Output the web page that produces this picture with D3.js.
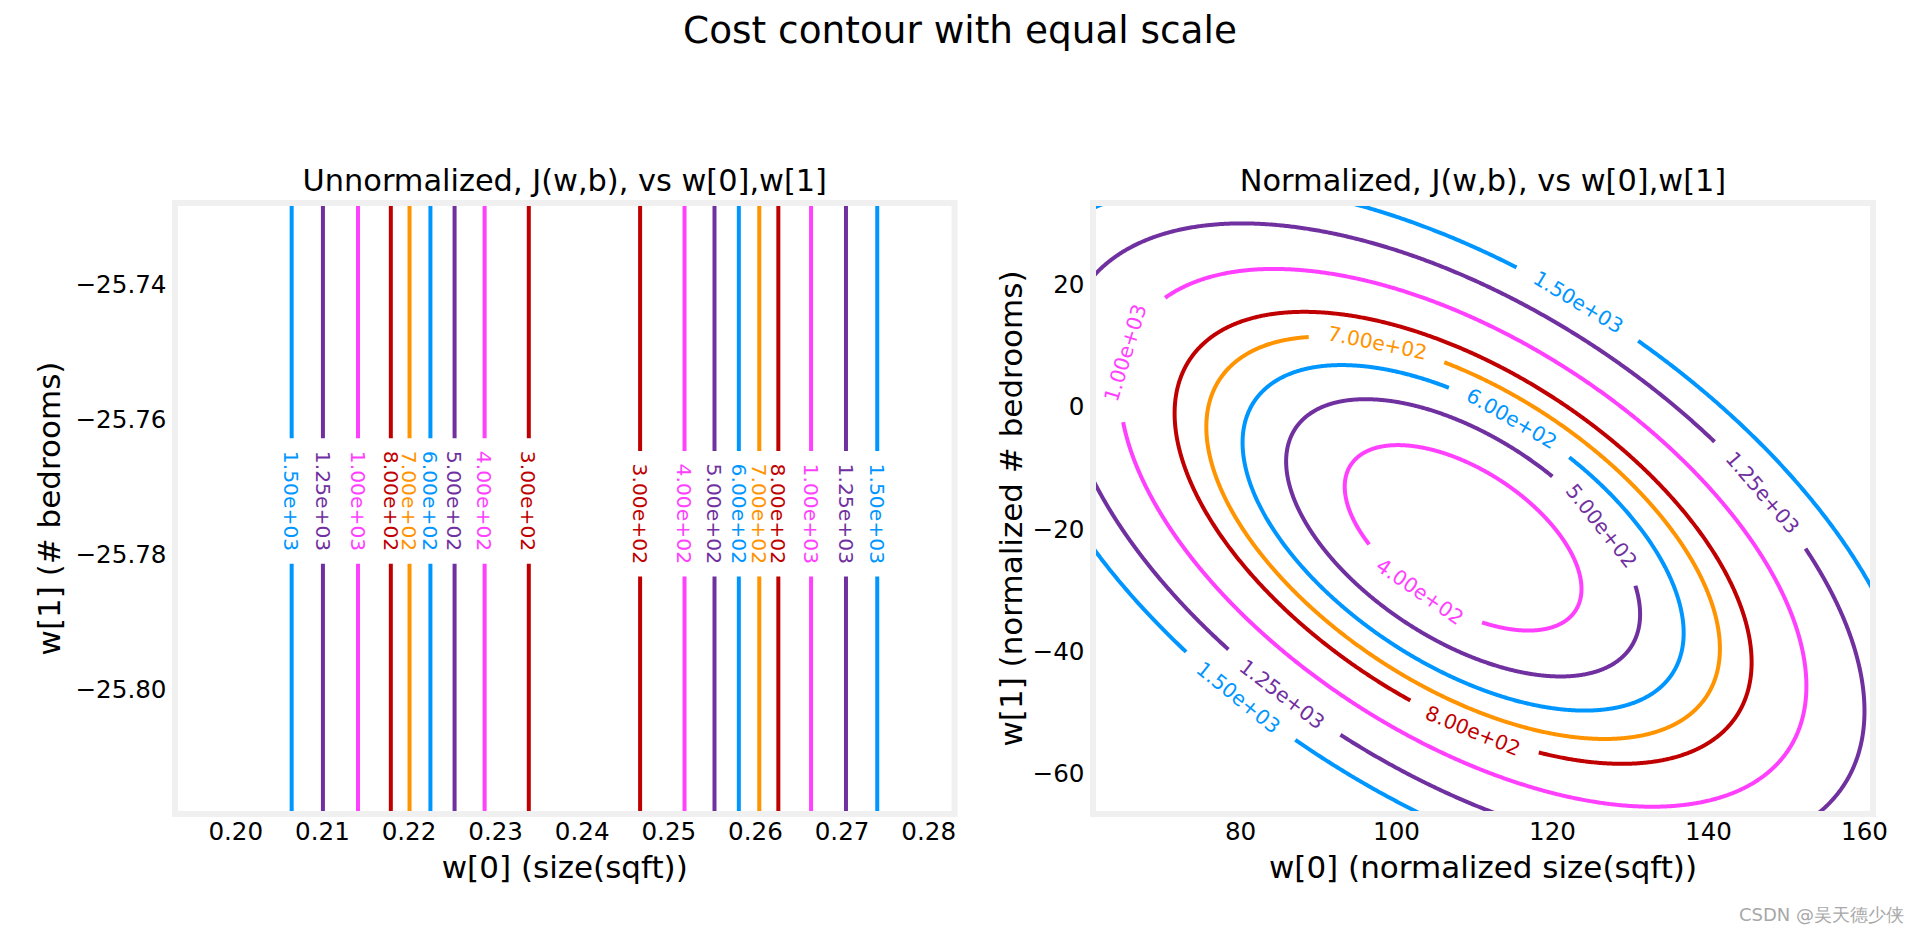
<!DOCTYPE html>
<html><head><meta charset="utf-8">
<script src="https://cdn.jsdelivr.net/npm/d3@7"></script>
<style>
body{margin:0;background:#fff;}
svg{display:block;}
text{font-family:"DejaVu Sans",sans-serif;}
</style>
</head><body>
<svg id="chart" width="1920" height="936"></svg>
<script>
// ---------------- data ----------------
const levelColors = {300:"#C00000",400:"#FF40FF",500:"#7030A0",600:"#0096FF",700:"#FF9300",800:"#C00000",1000:"#FF40FF",1250:"#7030A0",1500:"#0096FF"};

// Left (unnormalized): vertical contour lines
const leftLevels = [1500,1250,1000,800,700,600,500,400,300,300,400,500,600,700,800,1000,1250,1500];
const leftW0 = [0.20651,0.21012,0.21417,0.21796,0.22012,0.22253,0.22532,0.22879,0.23389,
                0.24674,0.25187,0.25533,0.25814,0.26050,0.26270,0.26648,0.27051,0.27412];
const leftLabelW1 = [-25.7720,-25.7720,-25.7720,-25.7720,-25.7720,-25.7720,-25.7720,-25.7720,-25.7720,
                     -25.7739,-25.7739,-25.7739,-25.7739,-25.7739,-25.7739,-25.7739,-25.7739,-25.7739];
const leftXDomain = [0.19304, 0.28304];
const leftYDomain = [-25.81837, -25.72785];
const leftXTicks = [0.20,0.21,0.22,0.23,0.24,0.25,0.26,0.27,0.28];
const leftYTicks = [-25.80,-25.78,-25.76,-25.74];

// Right (normalized): elliptical contours
const rightLevels = [400,500,600,700,800,1000,1250,1500];
const rightSemiMajor = [18.9,28.26,35.21,41.0,46.06,54.81,64.08,72.18];
const rightSemiMinor = [10.17,15.2,18.95,22.06,24.79,29.49,34.49,38.84];
const rightCenter = [108.6,-21.4];
const rightTiltDeg = -45;
const rightLabelLevels = [1500,1250,1000,700,600,500,400,800,1250,1500];
const rightLabelW0 = [123.6,147.5,65.05,97.6,115.0,126.7,103.3,109.9,85.8,80.1];
const rightLabelW1 = [17.5,-13.6,8.9,10.8,-1.55,-19.0,-29.8,-52.7,-46.5,-47.2];
const rightXDomain = [61.15, 161.15];
const rightYDomain = [-66.6, 33.4];
const rightXTicks = [80,100,120,140,160];
const rightYTicks = [-60,-40,-20,0,20];

// ---------------- drawing ----------------
const svg = d3.select("#chart");
const fmtLevel = v => { const s = v.toExponential(2); const [m,e] = s.split("e"); const sign = e[0]; const d = e.slice(1).padStart(2,"0"); return m+"e"+sign+d; };

svg.append("text").attr("x",960).attr("y",43).attr("text-anchor","middle")
  .attr("font-size",37.4).attr("fill","#000").text("Cost contour with equal scale");

function makeAxes(id, xDom, yDom, xr, yr){
  const x = d3.scaleLinear().domain(xDom).range(xr);
  const y = d3.scaleLinear().domain(yDom).range(yr);
  svg.append("clipPath").attr("id",id).append("rect")
    .attr("x",xr[0]).attr("y",yr[1]).attr("width",xr[1]-xr[0]).attr("height",yr[0]-yr[1]);
  return {x,y};
}
function drawFrame(x,y){
  svg.append("rect").attr("x",x.range()[0]).attr("y",y.range()[1])
    .attr("width",x.range()[1]-x.range()[0]).attr("height",y.range()[0]-y.range()[1])
    .attr("fill","none").attr("stroke","#f0f0f0").attr("stroke-width",6);
}
function drawAxes(x,y,xt,yt,xf,yf){
  const gx = svg.append("g").attr("transform",`translate(0,${y.range()[0]})`)
    .call(d3.axisBottom(x).tickValues(xt).tickSize(0).tickPadding(9).tickFormat(xf));
  const gy = svg.append("g").attr("transform",`translate(${x.range()[0]},0)`)
    .call(d3.axisLeft(y).tickValues(yt).tickSize(0).tickPadding(8.5).tickFormat(yf));
  [gx,gy].forEach(g=>{ g.select(".domain").remove();
    g.selectAll("text").attr("font-size",24.6).attr("fill","#000").attr("font-family","DejaVu Sans"); });
}

// ---- Left plot ----
const L = makeAxes("clipL", leftXDomain, leftYDomain, [175,954.5], [814,203]);
const gL = svg.append("g").attr("clip-path","url(#clipL)");
const padL = 12.5;
leftLevels.forEach((lev,i)=>{
  const px = L.x(leftW0[i]);
  const cy = L.y(leftLabelW1[i]);
  const t = gL.append("text").attr("transform",`translate(${px},${cy}) rotate(90)`)
    .attr("text-anchor","middle").attr("dy","0.36em").attr("font-size",20.3)
    .attr("fill",levelColors[lev]).text(fmtLevel(lev));
  const len = t.node().getComputedTextLength();
  const half = len/2 + padL;
  const seg = [[leftYDomain[0], L.y.invert(cy+half)], [L.y.invert(cy-half), leftYDomain[1]]];
  seg.forEach(s=>{
    gL.append("path").attr("d", d3.line()([[px,L.y(s[0])],[px,L.y(s[1])]]))
      .attr("stroke",levelColors[lev]).attr("stroke-width",4).attr("fill","none");
  });
});
drawFrame(L.x,L.y);
drawAxes(L.x,L.y,leftXTicks,leftYTicks,d3.format(".2f"),d3.format(".2f"));
svg.append("text").attr("x",564.75).attr("y",191).attr("text-anchor","middle").attr("font-size",30.4)
  .text("Unnormalized, J(w,b), vs w[0],w[1]");
svg.append("text").attr("x",564.75).attr("y",878).attr("text-anchor","middle").attr("font-size",31)
  .text("w[0] (size(sqft))");
svg.append("text").attr("transform","translate(60,508.5) rotate(-90)").attr("text-anchor","middle").attr("font-size",31)
  .text("w[1] (# bedrooms)");

// ---- Right plot ----
const R = makeAxes("clipR", rightXDomain, rightYDomain, [1093,1873], [814,203]);
const gR = svg.append("g").attr("clip-path","url(#clipR)");
const padR = 19;
const N = 1440;
const th = rightTiltDeg*Math.PI/180;
const curves = rightLevels.map((lev,k)=>{
  const a = rightSemiMajor[k], b = rightSemiMinor[k];
  const pts = d3.range(N).map(j=>{
    const t = 2*Math.PI*j/N;
    const u = a*Math.cos(t), v = b*Math.sin(t);
    const w0 = rightCenter[0] + u*Math.cos(th) - v*Math.sin(th);
    const w1 = rightCenter[1] + u*Math.sin(th) + v*Math.cos(th);
    return [R.x(w0), R.y(w1)];
  });
  const s = [0];
  for(let j=1;j<N;j++) s.push(s[j-1]+Math.hypot(pts[j][0]-pts[j-1][0],pts[j][1]-pts[j-1][1]));
  const S = s[N-1]+Math.hypot(pts[0][0]-pts[N-1][0],pts[0][1]-pts[N-1][1]);
  return {lev, pts, s, S, def: new Array(N).fill(true)};
});
rightLabelLevels.forEach((lev,i)=>{
  const c = curves.find(c=>c.lev===lev);
  const ax = R.x(rightLabelW0[i]), ay = R.y(rightLabelW1[i]);
  let best=0, bd=Infinity;
  c.pts.forEach((p,j)=>{ const d=(p[0]-ax)**2+(p[1]-ay)**2; if(d<bd){bd=d;best=j;} });
  const p0 = c.pts[(best-3+N)%N], p1 = c.pts[(best+3)%N];
  let ang = Math.atan2(p1[1]-p0[1], p1[0]-p0[0])*180/Math.PI;
  if(ang>90) ang-=180; if(ang<=-90) ang+=180;
  const p = c.pts[best];
  const t = gR.append("text").attr("transform",`translate(${p[0]},${p[1]}) rotate(${ang})`)
    .attr("text-anchor","middle").attr("dy","0.36em").attr("font-size",20.3)
    .attr("fill",levelColors[lev]).text(fmtLevel(lev));
  const half = t.node().getComputedTextLength()/2 + padR;
  for(let j=0;j<N;j++){
    let d = Math.abs(c.s[j]-c.s[best]); d = Math.min(d, c.S-d);
    if(d<half) c.def[j]=false;
  }
});
curves.forEach(c=>{
  let start = c.def.indexOf(false);
  let idx;
  if(start<0){ idx = d3.range(N+1).map(j=>j%N); }
  else { idx = d3.range(N+1).map(j=>(start+j)%N); }
  const line = d3.line().defined(j=>c.def[j]).x(j=>c.pts[j][0]).y(j=>c.pts[j][1]);
  gR.append("path").attr("d", line(idx)).attr("stroke",levelColors[c.lev])
    .attr("stroke-width",4).attr("fill","none").attr("stroke-linejoin","round");
});
drawFrame(R.x,R.y);
drawAxes(R.x,R.y,rightXTicks,rightYTicks,d3.format("d"),d3.format("d"));
svg.append("text").attr("x",1483).attr("y",191).attr("text-anchor","middle").attr("font-size",30.4)
  .text("Normalized, J(w,b), vs w[0],w[1]");
svg.append("text").attr("x",1483).attr("y",878).attr("text-anchor","middle").attr("font-size",31)
  .text("w[0] (normalized size(sqft))");
svg.append("text").attr("transform","translate(1022,508.5) rotate(-90)").attr("text-anchor","middle").attr("font-size",31)
  .text("w[1] (normalized # bedrooms)");

// watermark
svg.append("text").attr("x",1904).attr("y",921).attr("text-anchor","end")
  .attr("font-family","'Noto Sans CJK SC',sans-serif").attr("font-size",18).attr("fill","#a8a8a8")
  .text("CSDN @吴天德少侠");
</script>
</body></html>
